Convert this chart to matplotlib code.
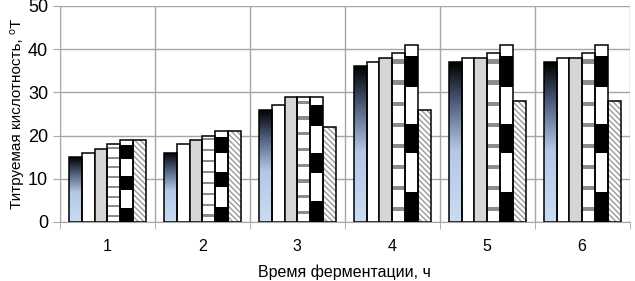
import numpy as np
import matplotlib.pyplot as plt
from matplotlib.colors import LinearSegmentedColormap, ListedColormap

plt.rcParams['font.family'] = ['Liberation Sans', 'DejaVu Sans']

hours = [1, 2, 3, 4, 5, 6]
s1 = [15, 16, 26, 36, 37, 37]
s2 = [16, 18, 27, 37, 38, 38]
s3 = [17, 19, 29, 38, 38, 38]
s4 = [18, 20, 29, 39, 39, 39]
s5 = [19, 21, 29, 41, 41, 41]
s6 = [19, 21, 22, 26, 28, 28]
series = [s1, s2, s3, s4, s5, s6]

fig = plt.figure(figsize=(6.35, 2.81), dpi=100)
ax = fig.add_axes([0.0945, 0.21, 0.897, 0.769])

x = np.arange(len(hours)) + 1
w = 0.135
edge = 1.1
grid_c = '#a6a6a6'

# textures for the patterned bars (rows go top -> bottom)
grad = LinearSegmentedColormap.from_list('g', [(0, '#000000'), (0.25, '#4d5d7a'),
                                               (0.55, '#b4c8e6'), (1, '#c9dcf3')])
grad_img = np.linspace(0, 1, 200).reshape(-1, 1)

stripe_img = np.zeros((160, 1))
for k in range(8):
    stripe_img[k * 20 + 6:k * 20 + 10] = 1
stripe_cmap = ListedColormap(['white', '#8c8c8c'])

blocks = np.zeros((100, 1))
# fractions measured from the top of the bar
for a, b in [(7, 24), (45, 61), (83, 100)]:
    blocks[a:b] = 1
block_cmap = ListedColormap(['white', 'black'])


def fill_bars(bars, img, cmap):
    for p in bars:
        x0, y0 = p.get_x(), p.get_y()
        im = ax.imshow(img, cmap=cmap, aspect='auto', interpolation='nearest',
                       extent=[x0, x0 + p.get_width(), y0, y0 + p.get_height()],
                       zorder=2)
        im.set_clip_path(p)


for i, vals in enumerate(series):
    pos = x + (i - 2.5) * w
    if i == 1:
        ax.bar(pos, vals, w, facecolor='white', edgecolor='black', linewidth=edge, zorder=3)
    elif i == 2:
        ax.bar(pos, vals, w, facecolor='#d6d6d6', edgecolor='black', linewidth=edge, zorder=3)
    elif i == 5:
        ax.bar(pos, vals, w, facecolor='white', edgecolor='#9a9a9a', hatch='\\\\\\\\\\\\',
               linewidth=0, zorder=3)
        ax.bar(pos, vals, w, facecolor='none', edgecolor='black', linewidth=edge, zorder=4)
    else:
        bars = ax.bar(pos, vals, w, facecolor='none', edgecolor='black', linewidth=edge, zorder=4)
        if i == 0:
            fill_bars(bars, grad_img, grad)
        elif i == 3:
            fill_bars(bars, stripe_img, stripe_cmap)
        else:
            fill_bars(bars, blocks, block_cmap)

ax.set_xlim(0.5, 6.5)
ax.set_ylim(0, 50)
ax.set_yticks(range(0, 51, 10))
ax.set_xticks(x)
ax.set_xticklabels([str(h) for h in hours])
ax.set_xticks(np.arange(0.5, 7, 1), minor=True)
ax.tick_params(axis='x', which='major', length=0, labelsize=11.5, pad=12)
ax.tick_params(axis='x', which='minor', length=5, color=grid_c)
ax.tick_params(axis='y', length=5, color=grid_c, labelsize=13)
ax.grid(axis='y', color=grid_c, linewidth=1)
ax.grid(axis='x', which='minor', color=grid_c, linewidth=1)
ax.set_axisbelow(True)
for s in ['top', 'right']:
    ax.spines[s].set_visible(False)
for s in ['left', 'bottom']:
    ax.spines[s].set_color(grid_c)

ax.set_xlabel('Время ферментации, ч', fontsize=11.5, labelpad=8)
ax.set_ylabel('Титруемая кислотность, \u2070Т', fontsize=11, labelpad=3)

fig.savefig('out.png', dpi=100)
